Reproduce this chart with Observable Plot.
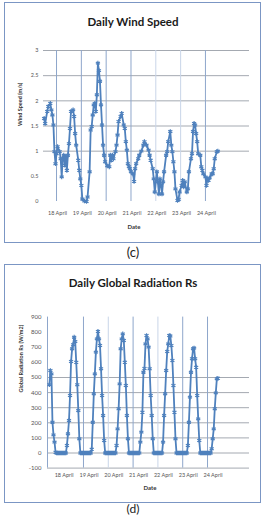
<!DOCTYPE html>
<html>
<head>
<meta charset="utf-8">
<script src="https://cdn.jsdelivr.net/npm/d3@7"></script>
<script src="https://cdn.jsdelivr.net/npm/@observablehq/plot@0.6"></script>
<style>
  body { margin: 0; background: #fff; font-family: Lato, "Open Sans", sans-serif; }
  #page { position: relative; width: 266px; height: 516px; overflow: hidden; }
  .panel { position: absolute; left: 4px; width: 257px; border: 1.6px solid #7b96c4; box-sizing: border-box; }
  .title { position: absolute; left: 0; width: 266px; text-align: center; font-weight: bold; font-size: 11.5px; color: #1a1a1a; line-height: 1; }
  .xtitle { position: absolute; width: 40px; text-align: center; font-size: 6px; font-weight: bold; color: #333; line-height: 1; }
  .cap { position: absolute; left: 0; width: 266px; text-align: center; font-size: 13px; color: #222; line-height: 1; }
  .chart { position: absolute; left: 0; }
  .chart svg { overflow: visible; }
</style>
</head>
<body>
<div id="page">
  <div class="panel" style="top:2px;height:241px"></div>
  <div class="title" style="top:16px">Daily Wind Speed</div>
  <div class="chart" id="wind" style="top:0"></div>
  <div class="xtitle" style="left:114px;top:224px">Date</div>
  <div class="cap" style="top:246px">(c)</div>

  <div class="panel" style="top:264px;height:239px"></div>
  <div class="title" style="top:277px">Daily Global Radiation Rs</div>
  <div class="chart" id="rs" style="top:262px"></div>
  <div class="xtitle" style="left:130px;top:485px">Date</div>
  <div class="cap" style="top:503px;font-size:12px">(d)</div>
</div>
<script>
// Hourly wind speed (m/s); hours counted from 17 April 00:00
const windHour = [
  12, 13, 15, 16, 18, 19, 20, 21, 22, 23,
  24, 25, 27, 28, 29, 30, 31, 32, 33, 34,
  35, 36, 37, 38, 40, 41, 42, 43, 45, 46,
  47, 48, 49, 51, 53, 54, 56, 57, 58, 59,
  60, 61, 62, 63, 64, 65, 66, 67, 68, 69,
  70, 71, 73, 75, 76, 77, 78, 79, 81, 82,
  83, 84, 86, 87, 89, 90, 91, 92, 93, 94,
  95, 96, 98, 99, 100, 101, 103, 104, 106, 108,
  109, 111, 113, 114, 115, 117, 118, 119, 121, 122,
  123, 124, 125, 126, 127, 128, 130, 131, 132, 134,
  135, 136, 137, 138, 139, 141, 142, 143, 145, 146,
  147, 148, 150, 151, 152, 154, 155, 156, 157, 158,
  159, 160, 161, 163, 164, 165, 166, 168, 169, 170,
  171, 172, 174, 175, 176, 177, 179, 180
];
const windSpeed = [
  1.65, 1.55, 1.79, 1.89, 1.95, 1.82, 1.72, 1.52, 0.99, 0.75,
  0.95, 1.09, 0.99, 0.85, 0.49, 0.85, 0.92, 0.72, 0.89, 0.62,
  0.92, 1.15, 1.45, 1.79, 1.82, 1.69, 1.35, 1.12, 0.82, 0.62,
  0.45, 0.32, 0.05, 0.01, 0.00, 0.09, 0.59, 1.42, 1.49, 1.72,
  1.92, 1.95, 1.79, 2.12, 2.75, 2.60, 2.39, 1.92, 1.52, 1.12,
  0.92, 0.79, 0.71, 0.69, 0.92, 0.82, 0.92, 0.85, 0.99, 1.12,
  1.32, 1.59, 1.69, 1.75, 1.52, 1.45, 1.19, 1.02, 0.75, 0.69,
  0.65, 0.59, 0.55, 0.40, 0.65, 0.75, 0.85, 0.92, 1.00, 1.12,
  1.19, 1.12, 1.02, 0.92, 0.82, 0.65, 0.45, 0.19, 0.59, 0.39,
  0.15, 0.45, 0.32, 0.15, 0.39, 0.59, 0.92, 0.99, 1.19, 1.39,
  1.12, 0.99, 0.79, 0.59, 0.25, 0.02, 0.04, 0.19, 0.32, 0.42,
  0.29, 0.39, 0.19, 0.25, 0.59, 0.85, 0.95, 1.39, 1.55, 1.52,
  1.35, 1.19, 0.95, 0.92, 0.69, 0.62, 0.55, 0.49, 0.32, 0.45,
  0.42, 0.47, 0.55, 0.55, 0.65, 0.85, 0.99, 1.00
];

// Hourly global radiation Rs (W/m2), first reading at 17 April 15:00
const rsStartHour = 15;
const rsValue = [
  452, 546, 524, 204, 120, 72, 5,
  0, 0, 0, 0, 0, 0, 0, 0, 0, 0,
  50, 127, 215, 381, 606, 690, 717, 767, 738, 601, 452, 281, 94,
  0, 0, 0, 0, 0, 0, 0, 0, 0, 0, 0,
  25, 204, 392, 524, 668, 756, 805, 756, 712, 558, 381, 248, 83,
  0, 0, 0, 0, 0, 0, 0, 0, 0, 0, 0,
  50, 160, 293, 458, 690, 756, 789, 745, 601, 447, 248, 94,
  0, 0, 0, 0, 0, 0, 0, 0, 0, 0, 0,
  72, 138, 270, 535, 560, 723, 778, 756, 701, 558, 381, 248, 94,
  0, 0, 0, 0, 0, 0, 0, 0, 0,
  72, 248, 392, 546, 672, 723, 778, 775, 712, 613, 447, 270, 94,
  0, 0, 0, 0, 0, 0, 0, 0, 0, 0, 0,
  50, 204, 370, 535, 624, 690, 695, 624, 568, 381, 226, 83,
  0, 0, 0, 0, 0, 0, 0, 0, 0, 0, 0,
  28, 94, 160, 293, 398, 491, 495
];

// Axis ticks
const dayOfMonth = [18, 19, 20, 21, 22, 23, 24];
const dayLabels = ["18 April", "19 April", "20 April", "21 April", "22 April", "23 April", "24 April"];
const windTicks = [0, 0.5, 1, 1.5, 2, 2.5, 3];
const rsTicks = [-100, 0, 100, 200, 300, 400, 500, 600, 700, 800, 900];

const base = Date.UTC(2015, 3, 17);
const at = h => new Date(base + h * 3600e3);
const days = dayOfMonth.map(d => at((d - 17) * 24));

const wind = windHour.map((h, i) => ({date: at(h), value: windSpeed[i]}));
const rs = rsValue.map((v, i) => ({date: at(rsStartHour + i), value: v}));

const blue = "#4F81BD";
const font = "Lato, 'Open Sans', sans-serif";

const windChart = Plot.plot({
  width: 266, height: 243,
  marginLeft: 43, marginRight: 17, marginTop: 50, marginBottom: 42,
  style: {background: "transparent", fontFamily: font},
  x: {type: "utc", domain: [at(11.4), at(210.6)], axis: null},
  y: {domain: [0, 3], axis: null},
  marks: [
    Plot.ruleY(windTicks.filter(v => v >= 1), {stroke: "#9a9fa8", strokeWidth: 0.9}),
    Plot.ruleX(days.filter((d, i) => i !== 4 && i !== 5), {stroke: "#8ea6cb", strokeWidth: 1}),
    Plot.ruleX(days.filter((d, i) => i === 4 || i === 5), {stroke: "#c9d5e8", strokeWidth: 1}),
    Plot.line(wind, {x: "date", y: "value", stroke: blue, strokeWidth: 1.8}),
    Plot.dot(wind, {x: "date", y: "value", symbol: "asterisk", r: 2.2, stroke: blue, strokeWidth: 1.2}),
    Plot.text(windTicks, {y: d => d, frameAnchor: "left", dx: -5, textAnchor: "end", text: d => String(d), fontSize: 5.5, fill: "#555"}),
    Plot.text(days, {x: d => d, frameAnchor: "bottom", dy: 13, dx: 1, text: (d, i) => dayLabels[i], fontSize: 5.5, fill: "#555"}),
    Plot.text(["Wind Speed (m/s)"], {frameAnchor: "left", dx: -23, rotate: -90, text: d => d, fontSize: 5.5, fontWeight: "bold", fill: "#333"})
  ]
});
document.getElementById("wind").append(windChart);

const rsDomain = [at(13.2), at(208.6)];
const rsChart = Plot.plot({
  width: 266, height: 240,
  marginLeft: 47, marginRight: 17, marginTop: 54.6, marginBottom: 34.4,
  style: {background: "transparent", fontFamily: font},
  x: {type: "utc", domain: rsDomain, axis: null},
  y: {domain: [-100, 900], axis: null},
  marks: [
    Plot.ruleY(rsTicks.filter(v => v <= 500), {stroke: "#9a9fa8", strokeWidth: 0.9}),
    Plot.ruleX([rsDomain[0]], {stroke: "#8ea6cb", strokeWidth: 1}),
    Plot.ruleX(days.filter((d, i) => i > 0 && i !== 2 && i !== 4), {stroke: "#8ea6cb", strokeWidth: 1}),
    Plot.ruleX(days.filter((d, i) => i === 2 || i === 4), {stroke: "#c9d5e8", strokeWidth: 1}),
    Plot.line(rs, {x: "date", y: "value", stroke: blue, strokeWidth: 1.8}),
    Plot.dot(rs, {x: "date", y: "value", symbol: "asterisk", r: 2.2, stroke: blue, strokeWidth: 1.2}),
    Plot.text(rsTicks, {y: d => d, frameAnchor: "left", dx: -6, textAnchor: "end", text: d => String(d), fontSize: 6, fill: "#555"}),
    Plot.text(days, {x: d => d, frameAnchor: "bottom", dy: 8.5, dx: 5.5, text: (d, i) => dayLabels[i], fontSize: 5.5, fill: "#555"}),
    Plot.text(["Global Radiation Rs (W/m2)"], {frameAnchor: "left", dx: -26, rotate: -90, text: d => d, fontSize: 5.5, fontWeight: "bold", fill: "#333"})
  ]
});
document.getElementById("rs").append(rsChart);
</script>
</body>
</html>
